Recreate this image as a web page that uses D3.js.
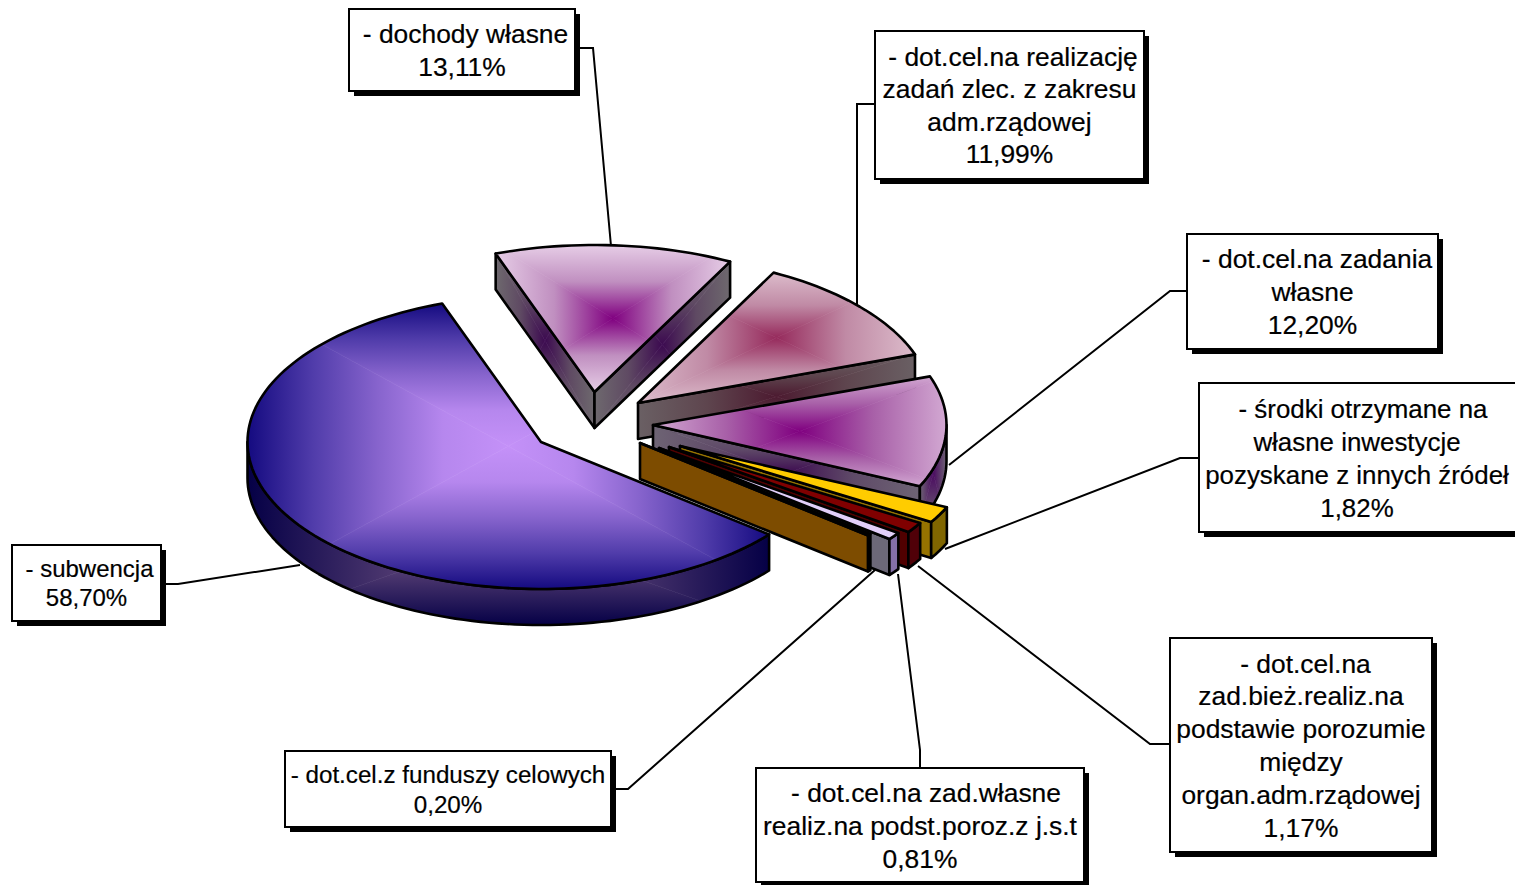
<!DOCTYPE html>
<html lang="pl">
<head>
<meta charset="utf-8">
<title>Struktura dochodow</title>
<script src="https://cdnjs.cloudflare.com/ajax/libs/d3/7.8.5/d3.min.js"></script>
<style>
	body { margin: 0; background: #fff; }
	text { font-family: "Liberation Sans", Arial, sans-serif; fill: #000; stroke: #000; stroke-width: 0.2; text-anchor: middle; }
</style>
</head>
<body>
<script>
// slices, clockwise, starting from the big one
var names = [
	["- subwencja"],
	["- dochody własne"],
	["- dot.cel.na realizację", "zadań zlec. z zakresu", "adm.rządowej"],
	["- dot.cel.na zadania", "własne"],
	["- środki otrzymane na", "własne inwestycje", "pozyskane z innych źródeł"],
	["- dot.cel.na", "zad.bież.realiz.na", "podstawie porozumie", "między", "organ.adm.rządowej"],
	["- dot.cel.na zad.własne", "realiz.na podst.poroz.z j.s.t"],
	["- dot.cel.z funduszy celowych"]
];
var values = [58.70, 13.11, 11.99, 12.20, 1.82, 1.17, 0.81, 0.20];
var percentLabels = ["58,70%", "13,11%", "11,99%", "12,20%", "1,82%", "1,17%", "0,81%", "0,20%"];

// layout
var w = 1515, h = 885;
var cx = 541, cy = 442, rx = 293.5, ry = 147, depth = 36;
var firstAngle = 129 * Math.PI / 180;
var explode = [[0, 0], [53.5, -50], [97, -39], [112, -17], [139, 4], [128, 5], [118, 6], [99, 1]];

// colour stops of the rectangular gradients from center to edge, plain string = flat colour
var topFill = [
	["#c491f8", "#b687ee", "#8764cd", "#503caa", "#140a80"],
	["#800080", "#c08fc0", "#e6cde6"],
	["#962a5c", "#c08aa5", "#dcbccb"],
	["#800080", "#a860a8", "#d2a8d2"],
	"#ffcc00", "#800000", "#e2cffa", "#3a2400"
];
var wallFill = [
	["#876490", "#050046"],
	["#3c0a50", "#5f4a63", "#6e696e"],
	["#4c1a30", "#5e454e", "#6a6064"],
	["#3c0a50", "#5f4a68", "#6e6474"],
	"#967300", "#500000", "#6c6878", "#7d4c00"
];
var rimFill = [
	["#876490", "#050046"],
	null, null,
	["#4a0a60", "#6e6474"],
	"#806600", "#500008", "#8470a8", "#7d4c00"
];

var boxes = [
	{x: 12, y: 545, w: 149, h: 76, size: 24, lh: 29, shift: 3},
	{x: 349, y: 9, w: 226, h: 82, size: 26.4, lh: 33, shift: 3.5},
	{x: 875, y: 31, w: 269, h: 148, size: 26.4, lh: 32.5, shift: 3.5},
	{x: 1187, y: 234, w: 251, h: 115, size: 26.4, lh: 33, shift: 4.5},
	{x: 1199, y: 383, w: 320, h: 149, size: 25.9, lh: 33, shift: 6},
	{x: 1170, y: 638, w: 262, h: 214, size: 26.4, lh: 32.8, shift: 4.5},
	{x: 756, y: 768, w: 328, h: 114, size: 26.4, lh: 33, shift: 6},
	{x: 285, y: 751, w: 326, h: 76, size: 24.2, lh: 30, shift: 0}
];
var leaders = [
	[[161, 584], [178, 584], [300, 565]],
	[[575, 48], [593, 48], [611, 246]],
	[[875, 104], [857, 104], [857, 305]],
	[[1187, 291], [1170, 291], [949, 465]],
	[[1199, 458], [1180, 458], [945, 549]],
	[[1170, 744], [1150, 744], [918, 566]],
	[[920, 768], [920, 750], [898, 574]],
	[[611, 789], [628, 789], [875, 570]]
];

var svg = d3.select("body").append("svg").attr("width", w).attr("height", h);
var defs = svg.append("defs");
var line = d3.line();
var uid = 0;

var arcs = d3.pie().sort(null).startAngle(firstAngle).endAngle(firstAngle + 2 * Math.PI)(values);

var xScale = d3.scaleLinear().domain([-1, 1]).range([-rx, rx]);
var yScale = d3.scaleLinear().domain([-1, 1]).range([ry, -ry]);

function rimPoint(a, o) {
	return [cx + o[0] + xScale(Math.sin(a)), cy + o[1] + yScale(Math.cos(a))];
}

function arcPoints(a0, a1, o) {
	var n = Math.max(2, Math.ceil((a1 - a0) / 0.03));
	return d3.range(n + 1).map(function(i) {
		return rimPoint(a0 + (a1 - a0) * i / n, o);
	});
}

function down(p) {
	return [p[0], p[1] + depth];
}

// one face: flat colour, or office style "from center" gradient with rectangular bands
function paintFace(points, fill) {
	var d = line(points) + "Z";
	if (typeof fill === "string") {
		svg.append("path").attr("d", d).attr("fill", fill)
			.attr("stroke", "#000").attr("stroke-width", 2.6).attr("stroke-linejoin", "round");
		return;
	}
	var x0 = d3.min(points, function(p) { return p[0]; });
	var x1 = d3.max(points, function(p) { return p[0]; });
	var y0 = d3.min(points, function(p) { return p[1]; });
	var y1 = d3.max(points, function(p) { return p[1]; });
	var mx = (x0 + x1) / 2, my = (y0 + y1) / 2;
	var clipId = "clip" + (uid++);
	defs.append("clipPath").attr("id", clipId).append("path").attr("d", d);

	var sides = [
		{tri: [[x0, y0], [x1, y0], [mx, my]], to: [mx, y0]},
		{tri: [[x1, y0], [x1, y1], [mx, my]], to: [x1, my]},
		{tri: [[x1, y1], [x0, y1], [mx, my]], to: [mx, y1]},
		{tri: [[x0, y1], [x0, y0], [mx, my]], to: [x0, my]}
	];
	var g = svg.append("g").attr("clip-path", "url(#" + clipId + ")");
	sides.forEach(function(s) {
		var id = "grad" + (uid++);
		var grad = defs.append("linearGradient").attr("id", id)
			.attr("gradientUnits", "userSpaceOnUse")
			.attr("x1", mx).attr("y1", my).attr("x2", s.to[0]).attr("y2", s.to[1]);
		fill.forEach(function(c, k) {
			grad.append("stop").attr("offset", k / (fill.length - 1)).attr("stop-color", c);
		});
		g.append("path").attr("d", line(s.tri) + "Z").attr("fill", "url(#" + id + ")")
			.attr("stroke", "url(#" + id + ")").attr("stroke-width", 0.6);
	});
	svg.append("path").attr("d", d).attr("fill", "none")
		.attr("stroke", "#000").attr("stroke-width", 2.6).attr("stroke-linejoin", "round");
}

// leader lines go under the pie
leaders.forEach(function(l) {
	svg.append("path").attr("d", line(l)).attr("fill", "none")
		.attr("stroke", "#000").attr("stroke-width", 2);
});

arcs.forEach(function(s, i) {
	var o = explode[i];
	var apex = [cx + o[0], cy + o[1]];
	var a0 = s.startAngle, a1 = s.endAngle;
	// pie angles run past a full turn after the start angle
	if (a0 >= 2 * Math.PI) {
		a0 -= 2 * Math.PI;
		a1 -= 2 * Math.PI;
	}

	// wall at the start of the slice
	if (Math.sin(a0) < 0) {
		var ps = rimPoint(a0, o);
		paintFace([apex, ps, down(ps), down(apex)], wallFill[i]);
	}
	// wall at the end of the slice
	if (Math.sin(a1) > 0) {
		var pe = rimPoint(a1, o);
		paintFace([apex, pe, down(pe), down(apex)], wallFill[i]);
	}
	// outer rim, only the part facing us
	var r0 = Math.max(a0, Math.PI / 2), r1 = Math.min(a1, 3 * Math.PI / 2);
	if (rimFill[i] && r1 > r0) {
		var top = arcPoints(r0, r1, o);
		paintFace(top.concat(top.map(down).reverse()), rimFill[i]);
	}
	paintFace([apex].concat(arcPoints(a0, a1, o)), topFill[i]);
});

// labels
boxes.forEach(function(b, i) {
	svg.append("rect").attr("x", b.x + 5).attr("y", b.y + 5).attr("width", b.w).attr("height", b.h).attr("fill", "#000");
	svg.append("rect").attr("x", b.x).attr("y", b.y).attr("width", b.w).attr("height", b.h)
		.attr("fill", "#fff").attr("stroke", "#000").attr("stroke-width", 2);
	var rows = names[i].concat(percentLabels[i]);
	var first = b.y + b.h / 2 - rows.length * b.lh / 2 + b.lh * 0.79;
	var mid = i === 4 ? 1357 : b.x + b.w / 2;
	svg.selectAll(null).data(rows).enter().append("text")
		.attr("x", function(d, k) { return k === 0 ? mid + b.shift : mid; })
		.attr("y", function(d, k) { return first + k * b.lh; })
		.attr("font-size", b.size)
		.text(function(d) { return d; });
});
</script>
</body>
</html>
